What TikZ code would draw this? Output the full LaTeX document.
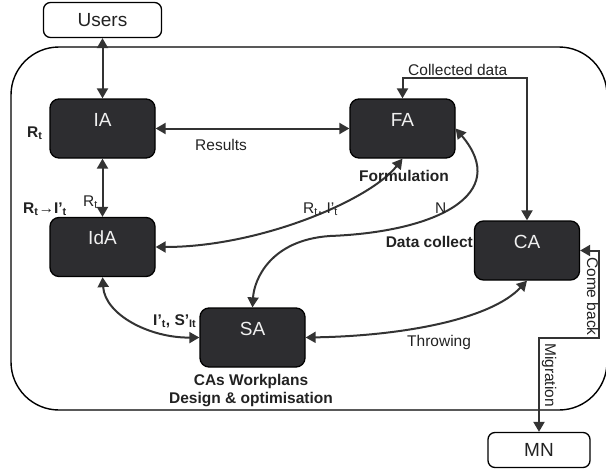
\documentclass[tikz,border=0pt]{standalone}
\usepackage{fontspec}
\setmainfont{Liberation Sans}
\usetikzlibrary{arrows.meta}
\definecolor{boxfill}{HTML}{2D2D30}
\definecolor{linec}{HTML}{333333}
\definecolor{txt}{HTML}{222222}
\definecolor{boxtxt}{HTML}{F0F0F0}
\begin{document}
\begin{tikzpicture}[x=1pt,y=-1pt,
  agent/.style={draw=black, line width=1.3pt, fill=boxfill, rounded corners=9pt,
    minimum width=105pt, minimum height=59pt, inner ysep=0pt,
    text height=27pt, text depth=32pt, text=boxtxt, font=\fontsize{19}{22}\selectfont},
  ext/.style={draw=black, line width=1.3pt, fill=white, rounded corners=7pt,
    minimum width=118pt, minimum height=35pt, inner sep=0pt, text=txt,
    font=\fontsize{19}{22}\selectfont},
  lbl/.style={text=txt, inner sep=0pt, font=\fontsize{15.5}{18.5}\selectfont},
  blbl/.style={text=txt, inner sep=0pt, font=\fontsize{15.5}{18.5}\selectfont\bfseries},
  con/.style={draw=linec, line width=2pt,
    {Triangle[length=10pt,width=11pt]}-{Triangle[length=10pt,width=11pt]}},
]
\useasboundingbox (0,0) rectangle (606,471);
% outer frame
\draw[line width=1.4pt, rounded corners=48pt] (11,47) rectangle (607,410);

% nodes
\node[ext] (users) at (102.5,20) {Users};
\node[ext, minimum width=102pt] (mn) at (539,450) {MN};
\node[agent] (ia) at (102.5,128.5) {IA};
\node[agent] (ida) at (102.5,247) {IdA};
\node[agent] (fa) at (402.5,128.5) {FA};
\node[agent] (ca) at (527,250.5) {CA};
\node[agent] (sa) at (252.5,337.5) {SA};

% connectors
\draw[con] (users) -- (ia);
\draw[con] (ia) -- (ida);
\draw[con] (ia) -- (fa);
\draw[con] (fa.north) -- ++(0,-20) -| (ca.north);
\draw[con] (ida.east) .. controls (260,247) and (370,200) .. (fa.south);
\draw[con] (sa.north) .. controls (254,280) and (270,240) .. (330,236)
  .. controls (435,232) and (512,195) .. (fa.east);
\draw[con] (ida.south) .. controls (105,315) and (150,338) .. (sa.west);
\draw[con] (sa.east) .. controls (400,336) and (490,320) .. (ca.south);
\coordinate (bend) at (599,338);
\draw[con] (ca.east) -| (bend) -| (mn.north);

% labels
\node[blbl, anchor=base west] (l1) at (27,137) {R\textsubscript{t}};
\node[blbl, anchor=base west] (l2) at (23,213) {R\textsubscript{t}→I’\textsubscript{t}};
\node[lbl, anchor=base west] (l3) at (83,206) {R\textsubscript{t}};
\node[lbl, anchor=base west] (l4) at (195,150) {Results};
\node[lbl, anchor=base west] (l5) at (408,75) {Collected data};
\node[blbl, anchor=base west] (l6) at (359,181) {Formulation};
\node[lbl, anchor=base west] (l7) at (303,213) {R\textsubscript{t}, I’\textsubscript{t}};
\node[lbl, anchor=base west] (l8) at (435,213) {N};
\node[blbl, anchor=base east] (l9) at (473,247) {Data collect};
\node[blbl, anchor=base west] (l10) at (153,325) {I’\textsubscript{t}, S’\textsubscript{It}};
\node[lbl, anchor=base west] (l11) at (407,346) {Throwing};
\node[blbl, anchor=base] (l12) at (251,385) {CAs Workplans};
\node[blbl, anchor=base] (l13) at (251,403) {Design \& optimisation};
\node[lbl, anchor=base west, rotate=-90] (l14) at (587,257) {Come back};
\node[lbl, anchor=base west, rotate=-90] (l15) at (545,343) {Migration};
\end{tikzpicture}
\end{document}
